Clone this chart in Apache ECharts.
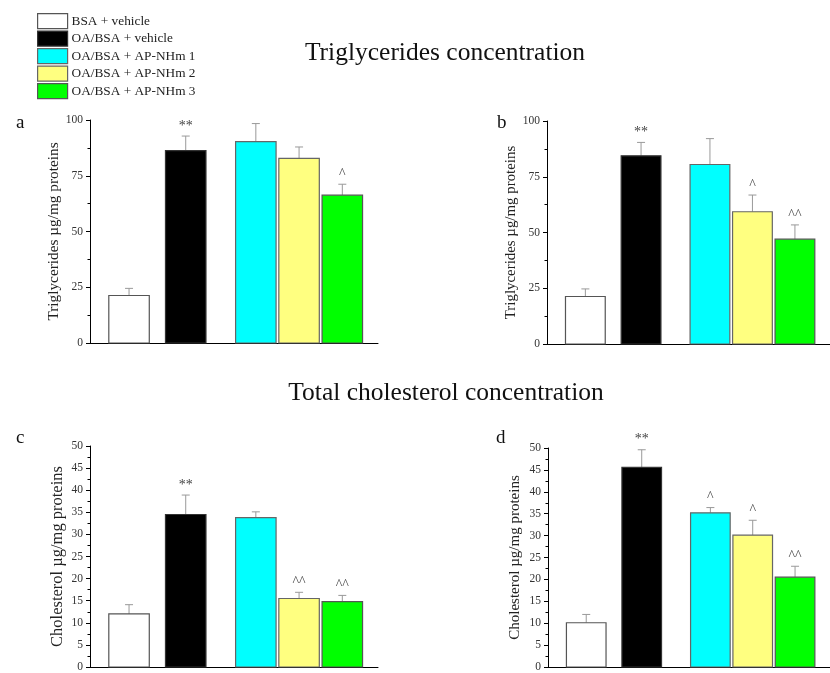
<!DOCTYPE html>
<html><head><meta charset="utf-8">
<script src="https://cdn.jsdelivr.net/npm/echarts@6/dist/echarts.min.js"></script>
<style>html,body{margin:0;padding:0;background:#fff}#c{width:830px;height:673px}</style>
</head><body><div id="c"></div>
<script>
// ---- data ----
const groups = ['BSA + vehicle', 'OA/BSA + vehicle', 'OA/BSA + AP-NHm 1', 'OA/BSA + AP-NHm 2', 'OA/BSA + AP-NHm 3'];
const tgA = [21.3, 86.3, 90.3, 82.8, 66.3];
const tgAErr = [3.2, 6.5, 8.1, 5.1, 4.9];
const tgASig = ['', '**', '', '', '^'];
const tgB = [21.3, 84.4, 80.5, 59.3, 47.0];
const tgBErr = [3.4, 6.0, 11.6, 7.5, 6.4];
const tgBSig = ['', '**', '', '^', '^^'];
const chC = [12.0, 34.5, 33.8, 15.5, 14.8];
const chCErr = [2.1, 4.4, 1.3, 1.4, 1.4];
const chCSig = ['', '**', '', '^^', '^^'];
const chD = [10.1, 45.6, 35.2, 30.1, 20.5];
const chDErr = [1.9, 4.0, 1.2, 3.4, 2.5];
const chDSig = ['', '**', '^', '^', '^^'];
const tgTicks = {max: 100, interval: 25};
const chTicks = {max: 50, interval: 5};

// ---- style / layout ----
const FONT = '"Liberation Serif", "Times New Roman", serif';
const fills = ['#ffffff', '#000000', '#00ffff', '#ffff80', '#00ff00'];
const borders = ['#555555', '#333333', '#666666', '#666666', '#555555'];
const slot = [0.93, 2.28, 3.95, 4.98, 6.01];
const panels = [
  {vals: tgA, err: tgAErr, sig: tgASig, ticks: tgTicks, name: 'Triglycerides \u00b5g/mg proteins', nameSize: 15.3, nameGap: 26, grid: {left: 90, top: 120, width: 288, height: 223}},
  {vals: tgB, err: tgBErr, sig: tgBSig, ticks: tgTicks, name: 'Triglycerides \u00b5g/mg proteins', nameSize: 14.9, nameGap: 26, grid: {left: 547, top: 121, width: 288, height: 223}},
  {vals: chC, err: chCErr, sig: chCSig, ticks: chTicks, name: 'Cholesterol \u00b5g/mg proteins', nameSize: 16.5, nameGap: 24, grid: {left: 90, top: 446, width: 288, height: 223}},
  {vals: chD, err: chDErr, sig: chDSig, ticks: chTicks, name: 'Cholesterol \u00b5g/mg proteins', nameSize: 15, nameGap: 25, grid: {left: 548, top: 448, width: 288, height: 223}}
];

const grid = [], xAxis = [], yAxis = [], series = [];
panels.forEach((p, pi) => {
  grid.push(p.grid);
  xAxis.push({type: 'value', gridIndex: pi, min: 0, max: 6.86, show: true,
    axisLine: {show: true, onZero: false, lineStyle: {color: '#000', width: 1}},
    axisTick: {show: false}, axisLabel: {show: false}, splitLine: {show: false}});
  yAxis.push({type: 'value', gridIndex: pi, min: 0, max: p.ticks.max, interval: p.ticks.interval,
    name: p.name, nameLocation: 'middle', nameGap: p.nameGap,
    nameTextStyle: {fontFamily: FONT, fontSize: p.nameSize, color: '#222'},
    axisLine: {show: true, lineStyle: {color: '#000', width: 1}},
    axisTick: {show: true, length: 4, lineStyle: {color: '#000'}},
    minorTick: {show: true, splitNumber: 2, length: 2.5, lineStyle: {color: '#000'}},
    axisLabel: {fontFamily: FONT, fontSize: 11.5, color: '#333', margin: 7},
    splitLine: {show: false}});
  groups.forEach((g, gi) => {
    series.push({
      type: 'custom', name: g, xAxisIndex: pi, yAxisIndex: pi,
      itemStyle: {color: fills[gi], borderColor: borders[gi]},
      encode: {x: 0, y: 1},
      data: [[slot[gi], p.vals[gi], p.err[gi]]],
      renderItem: function (params, api) {
        const x = api.value(0), v = api.value(1), e = api.value(2);
        const top = api.coord([x, v]);
        const base = api.coord([x, 0]);
        const etop = api.coord([x, v + e]);
        const w = api.size([1, 0])[0] - 1.5;
        const lab = p.sig[gi];
        const children = [
          {type: 'line', shape: {x1: top[0], y1: top[1], x2: etop[0], y2: etop[1]}, style: {stroke: '#999', lineWidth: 1}},
          {type: 'line', shape: {x1: etop[0] - 4, y1: etop[1], x2: etop[0] + 4, y2: etop[1]}, style: {stroke: '#999', lineWidth: 1}},
          {type: 'rect', shape: {x: top[0] - w / 2, y: top[1], width: w, height: base[1] - top[1]},
            style: {fill: fills[gi], stroke: borders[gi], lineWidth: 1.2}}
        ];
        if (lab) {
          children.push({type: 'text', x: etop[0], y: etop[1] - 3,
            style: {text: lab, fill: '#444', font: '14px ' + FONT, align: 'center', verticalAlign: 'bottom'}});
        }
        return {type: 'group', children: children};
      }
    });
  });
});

const option = {
  animation: false,
  backgroundColor: '#fff',
  title: [
    {text: 'Triglycerides concentration', left: 440, top: 35, textAlign: 'center', textStyle: {fontFamily: FONT, fontSize: 25.5, fontWeight: 'normal', color: '#111'}},
    {text: 'Total cholesterol concentration', left: 441, top: 375, textAlign: 'center', textStyle: {fontFamily: FONT, fontSize: 25.5, fontWeight: 'normal', color: '#111'}},
    {text: 'a', left: 11, top: 109, textStyle: {fontFamily: FONT, fontSize: 19, fontWeight: 'normal', color: '#111'}},
    {text: 'b', left: 492, top: 109, textStyle: {fontFamily: FONT, fontSize: 19, fontWeight: 'normal', color: '#111'}},
    {text: 'c', left: 11, top: 424, textStyle: {fontFamily: FONT, fontSize: 19, fontWeight: 'normal', color: '#111'}},
    {text: 'd', left: 491, top: 424, textStyle: {fontFamily: FONT, fontSize: 19, fontWeight: 'normal', color: '#111'}}
  ],
  legend: {
    orient: 'vertical', left: 37, top: 13, padding: 0,
    itemWidth: 30, itemHeight: 15, itemGap: 1.3,
    selectedMode: false,
    textStyle: {fontFamily: FONT, fontSize: 13.3, color: '#222', padding: [0, 0, 0, -1]},
    data: groups.map((g, gi) => ({name: g, icon: 'rect', itemStyle: {color: fills[gi], borderColor: borders[gi], borderWidth: 1.2}}))
  },
  grid: grid, xAxis: xAxis, yAxis: yAxis, series: series
};
const chart = echarts.init(document.getElementById('c'), null, {renderer: 'canvas'});
chart.setOption(option);
</script></body></html>
